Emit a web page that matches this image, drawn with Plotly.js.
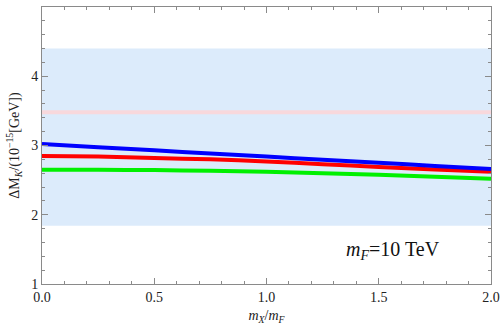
<!DOCTYPE html>
<html>
<head>
<meta charset="utf-8">
<script src="https://cdn.plot.ly/plotly-3.0.1.min.js"></script>
<style>
  html, body { margin: 0; padding: 0; background: #fff; }
  #chart { width: 500px; height: 327px; }
</style>
</head>
<body>
<div id="chart"></div>
<script>
// mass ratio m_X / m_F
const ratio = [0, 0.25, 0.5, 0.75, 1.0, 1.25, 1.5, 1.75, 2.0];
// Delta M_K predictions in units of 1e-15 GeV
const blueCurve  = [3.02, 2.975, 2.93, 2.885, 2.84, 2.795, 2.75, 2.705, 2.66];
const redCurve   = [2.85, 2.84, 2.82, 2.80, 2.77, 2.73, 2.69, 2.655, 2.62];
const greenCurve = [2.65, 2.65, 2.645, 2.635, 2.62, 2.60, 2.577, 2.55, 2.52];
// experimental band and central value
const bandLow = 1.84;
const bandHigh = 4.4;
const centralValue = 3.48;

const serif = 'Liberation Serif';
const frame = '#8a8a8a';

function curve(y, color) {
  return {
    x: ratio, y: y, type: 'scatter', mode: 'lines',
    line: { color: color, width: 4, shape: 'spline', smoothing: 0.6 },
    hoverinfo: 'skip', showlegend: false
  };
}

const data = [
  curve(greenCurve, '#00f000'),
  curve(redCurve, '#ff0000'),
  curve(blueCurve, '#0000ff')
];

const axisCommon = {
  showline: true, linecolor: frame, linewidth: 1, mirror: 'ticks',
  ticks: 'inside', ticklen: 6, tickcolor: frame, tickwidth: 1,
  showgrid: false, zeroline: false,
  tickfont: { family: serif, size: 14, color: '#222' }
};

const layout = {
  width: 500, height: 327,
  margin: { l: 42, r: 9, t: 7, b: 43 },
  paper_bgcolor: '#fff', plot_bgcolor: '#fff',
  xaxis: Object.assign({}, axisCommon, {
    range: [0, 2], dtick: 0.5, tickformat: '.1f',
    minor: { dtick: 0.1, ticks: 'inside', ticklen: 3, tickcolor: frame },
    title: { text: '<i>m<sub>X</sub></i>/<i>m<sub>F</sub></i>', font: { family: serif, size: 14, color: '#222' }, standoff: 6 }
  }),
  yaxis: Object.assign({}, axisCommon, {
    range: [1, 5], dtick: 1,
    minor: { dtick: 0.2, ticks: 'inside', ticklen: 3, tickcolor: frame },
    title: { text: 'ΔM<sub><i>K</i></sub>/(10<sup>−15</sup>[GeV])', font: { family: serif, size: 14, color: '#222' }, standoff: 8 }
  }),
  shapes: [
    { type: 'rect', xref: 'paper', yref: 'y', x0: 0, x1: 1, y0: bandLow, y1: bandHigh,
      fillcolor: '#dcebfb', line: { width: 0 }, layer: 'below' },
    { type: 'line', xref: 'paper', yref: 'y', x0: 0, x1: 1, y0: centralValue, y1: centralValue,
      line: { color: '#f8d8dc', width: 4 }, layer: 'below' }
  ],
  annotations: [
    { xref: 'x', yref: 'y', x: 1.78, y: 1.49, xanchor: 'right', yanchor: 'middle',
      text: '<i>m<sub>F</sub></i>=10 TeV', showarrow: false,
      font: { family: serif, size: 20, color: '#111' } }
  ]
};

Plotly.newPlot('chart', data, layout, { staticPlot: true, displayModeBar: false });
</script>
</body>
</html>
